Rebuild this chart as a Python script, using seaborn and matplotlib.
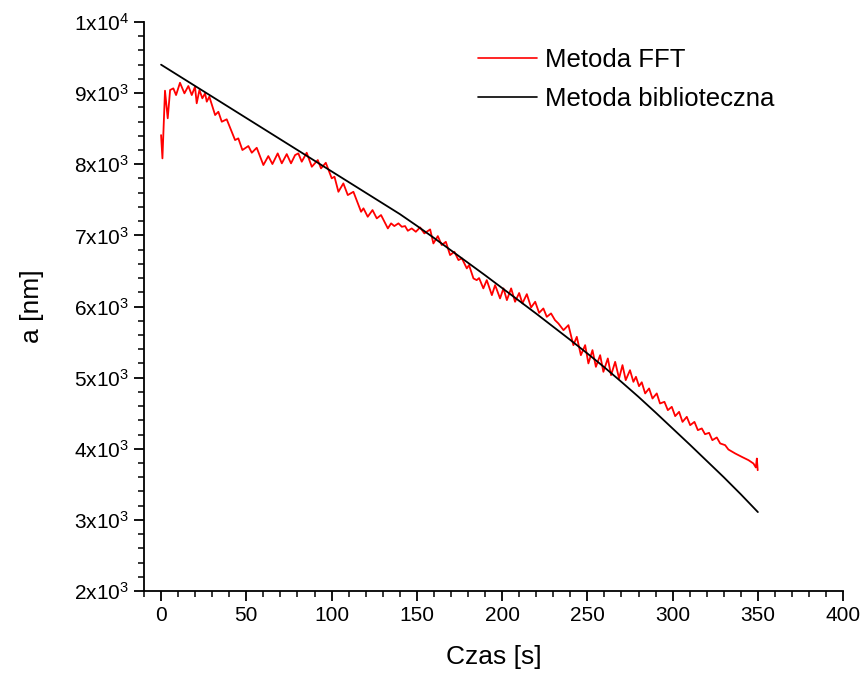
import numpy as np
import pandas as pd
import matplotlib
matplotlib.use("Agg")
import matplotlib.pyplot as plt
from matplotlib.ticker import FuncFormatter, MultipleLocator
import seaborn as sns

# ---- data ----
fft_t = [0, 0.8, 2.3, 3.9, 5.3, 7.2, 8.8, 11.1, 13.7, 16, 18, 19.9, 20.9, 22.5, 24.2,
         25.8, 26.8, 28.3, 31.7, 33.6, 35.6, 38.5, 43.4, 45.3, 47.7, 51.2, 53.2, 56.1,
         60, 62.9, 65.3, 68.4, 70.8, 73.7, 76.2, 78.6, 80.5, 82.5, 85.4, 88.4, 91.9,
         93.8, 96.6, 100.1, 101.7, 104, 106.9, 109.5, 112.8, 117.3, 118.7, 121.2, 124,
         126.5, 129, 133, 134.9, 136.8, 139.2, 141.2, 143.1, 144.7, 147, 149.4, 151.9,
         154.4, 157.8, 159.7, 162.3, 164.6, 167, 169.5, 172, 174.4, 176.4, 179.3, 180.6,
         183.2, 185.1, 186.5, 189, 191, 194, 195.9, 198.8, 200.8, 202.8, 205.3, 207.6,
         210, 211.9, 214.5, 217, 219.4, 221.7, 224.2, 226.2, 228.7, 231, 233, 236, 238.9,
         241.8, 243.8, 246.2, 248.7, 250.6, 253, 255, 257.5, 259.4, 262, 263.9, 266.3,
         268.6, 270.6, 272.5, 275, 277, 278.5, 280.3, 281.9, 283.9, 286.2, 288.2, 290.7,
         292.6, 295.2, 297.2, 299.5, 301.5, 303.8, 305.8, 308.3, 310.3, 312.8, 314.8,
         317.1, 319, 321.4, 323.3, 325.9, 327.9, 330.8, 332.7, 336.7, 340.6, 344.5,
         347.4, 348.8, 349.4, 349.9]
fft_a = [8410, 8083, 9034, 8646, 9044, 9067, 8973, 9146, 8997, 9100, 8973, 9090, 8857,
         9044, 8927, 8997, 8880, 8950, 8692, 8738, 8598, 8632, 8340, 8364, 8200, 8256,
         8162, 8232, 7989, 8115, 8003, 8153, 8013, 8143, 8013, 8129, 8153, 8036, 8162,
         7965, 8059, 7942, 8021, 7802, 7825, 7613, 7731, 7567, 7613, 7332, 7380, 7262,
         7356, 7239, 7286, 7098, 7169, 7131, 7169, 7121, 7131, 7065, 7098, 7051, 7112,
         7028, 7084, 6887, 6990, 6864, 6910, 6723, 6770, 6653, 6677, 6536, 6582, 6395,
         6371, 6400, 6255, 6371, 6160, 6301, 6114, 6255, 6090, 6255, 6067, 6190, 6044,
         6174, 5987, 6067, 5911, 5973, 5855, 5903, 5809, 5762, 5668, 5738, 5457, 5574,
         5316, 5457, 5200, 5387, 5152, 5316, 5082, 5270, 5035, 5222, 4989, 5176, 4965,
         5105, 4941, 5012, 4880, 4935, 4778, 4848, 4707, 4778, 4637, 4660, 4543, 4590,
         4459, 4519, 4378, 4449, 4332, 4378, 4262, 4286, 4205, 4224, 4121, 4159, 4075,
         4051, 3990, 3934, 3886, 3840, 3793, 3737, 3863, 3699]

lib_t = [0, 10, 20, 30, 40, 50, 60, 70, 80, 90, 100, 110, 120, 130, 140, 150, 160, 170,
         180, 190, 200, 210, 220, 230, 240, 250, 260, 270, 280, 290, 300, 310, 320, 330,
         340, 350]
lib_a = [9400, 9250, 9100, 8950, 8800, 8650, 8500, 8350, 8200, 8050, 7900, 7750, 7600,
         7450, 7300, 7135, 6965, 6790, 6615, 6440, 6260, 6080, 5900, 5715, 5530, 5340,
         5145, 4940, 4730, 4510, 4285, 4060, 3830, 3600, 3360, 3110]

series_names = ["Metoda FFT", "Metoda biblioteczna"]
x_label = "Czas [s]"
y_label = "a [nm]"

# ---- style ----
sns.set_style("ticks")
plt.rcParams["font.family"] = ["Liberation Sans", "DejaVu Sans"]
plt.rcParams["mathtext.fontset"] = "custom"
plt.rcParams["mathtext.rm"] = "Liberation Sans"
plt.rcParams["mathtext.it"] = "Liberation Sans:italic"
plt.rcParams["mathtext.bf"] = "Liberation Sans:bold"
plt.rcParams["text.color"] = "black"
plt.rcParams["axes.labelcolor"] = "black"

fig = plt.figure(figsize=(8.66, 6.75), dpi=100)
ax = fig.add_axes([0.1663, 0.1244, 0.8073, 0.843])

df_fft = pd.DataFrame({"t": fft_t, "a": fft_a})
df_lib = pd.DataFrame({"t": lib_t, "a": lib_a})

sns.lineplot(data=df_fft, x="t", y="a", color="#ff0000", linewidth=1.3,
             estimator=None, sort=False, label=series_names[0], ax=ax)
sns.lineplot(data=df_lib, x="t", y="a", color="black", linewidth=1.3,
             estimator=None, sort=False, label=series_names[1], ax=ax)

ax.set_xlim(-10, 400)
ax.set_ylim(2000, 10000)
ax.xaxis.set_major_locator(MultipleLocator(50))
ax.xaxis.set_minor_locator(MultipleLocator(10))
ax.yaxis.set_major_locator(MultipleLocator(1000))
ax.yaxis.set_minor_locator(MultipleLocator(200))


def sci(v, pos):
    if v <= 0:
        return ""
    e = int(np.floor(np.log10(v) + 1e-9))
    m = v / 10 ** e
    return f"{m:g}x10$^{{{e}}}$"


ax.yaxis.set_major_formatter(FuncFormatter(sci))

sns.despine(ax=ax)
for s in ["left", "bottom"]:
    ax.spines[s].set_linewidth(1.3)
    ax.spines[s].set_color("black")
ax.tick_params(which="major", direction="out", length=7, width=1.3, labelsize=15,
               colors="black", labelcolor="black", pad=4)
ax.tick_params(which="minor", direction="out", length=4, width=1.1, colors="black")

ax.set_xlabel(x_label, fontsize=19, labelpad=14, color="black")
ax.set_ylabel(y_label, fontsize=19, labelpad=21, color="black")

leg = ax.legend(loc="upper left", bbox_to_anchor=(0.478, 0.954), frameon=False,
                fontsize=18.5, handlelength=2.3, handletextpad=0.3, labelspacing=0.57,
                borderaxespad=0, borderpad=0)
for text in leg.get_texts():
    text.set_color("black")
for line in leg.get_lines():
    line.set_linewidth(1.2)

fig.savefig("out.png", dpi=100)
